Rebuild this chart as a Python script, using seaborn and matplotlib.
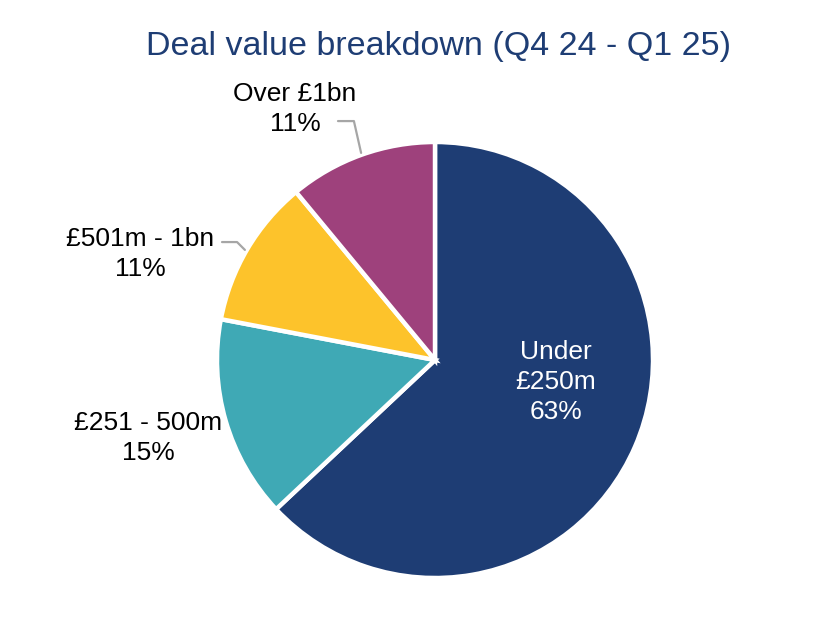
import matplotlib
matplotlib.use("Agg")
import matplotlib.pyplot as plt
import seaborn as sns

categories = ["Under\n£250m", "£251 - 500m", "£501m - 1bn", "Over £1bn"]
values = [63, 15, 11, 11]
pct_labels = ["63%", "15%", "11%", "11%"]
colors = ["#1E3D74", "#3FA9B5", "#FDC32B", "#9E417C"]
title = "Deal value breakdown (Q4 24 - Q1 25)"

sns.set_theme(style="white")
plt.rcParams['font.family'] = ['Liberation Sans', 'DejaVu Sans']

W, H = 813, 634
fig = plt.figure(figsize=(W / 100, H / 100), dpi=100)
cx, cy, r = 435, 360, 218
ax = fig.add_axes([(cx - r) / W, (H - cy - r) / H, 2 * r / W, 2 * r / H])

ax.pie(values, colors=colors, startangle=90, counterclock=False, radius=1,
       wedgeprops=dict(edgecolor="white", linewidth=3.2))
ax.set_xlim(-1, 1)
ax.set_ylim(-1, 1)
ax.set_aspect("equal")
ax.axis("off")

fs = 19
ls = 1.32
# inside label
ax.text(0.555, -0.100, f"{categories[0]}\n{pct_labels[0]}", ha="center", va="center",
        color="white", fontsize=fs, linespacing=ls, clip_on=False)
# outside labels
ax.text(-1.317, -0.358, f"{categories[1]}\n{pct_labels[1]}", ha="center", va="center",
        color="black", fontsize=fs, linespacing=ls, clip_on=False)
ax.text(-1.353, 0.486, f"{categories[2]}\n{pct_labels[2]}", ha="center", va="center",
        color="black", fontsize=fs, linespacing=ls, clip_on=False)
ax.text(-0.642, 1.151, f"{categories[3]}\n{pct_labels[3]}", ha="center", va="center",
        color="black", fontsize=fs, linespacing=ls, clip_on=False)

# leader lines
lc = "#A6A6A6"
ax.plot([-0.445, -0.372, -0.339], [1.096, 1.096, 0.950], color=lc, lw=1.6, clip_on=False)
ax.plot([-0.977, -0.908, -0.872], [0.541, 0.541, 0.505], color=lc, lw=1.6, clip_on=False)

fig.text(438 / W, 1 - 46 / H, title, ha="center", va="center", color="#1E3D74", fontsize=24.5)

fig.savefig("out.png", dpi=100)
